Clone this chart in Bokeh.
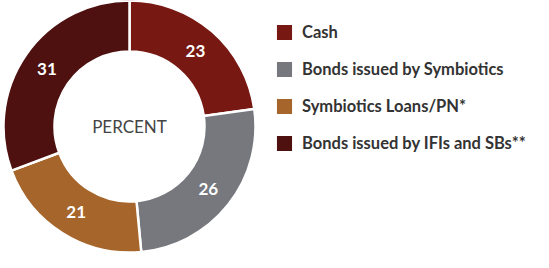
import math
from bokeh.plotting import figure
from bokeh.models import ColumnDataSource, Legend, LegendItem
from bokeh.core.properties import value
from bokeh.embed import file_html
from bokeh.resources import INLINE

categories = ["Cash", "Bonds issued by Symbiotics", "Symbiotics Loans/PN*", "Bonds issued by IFIs and SBs**"]
values = [23, 26, 21, 31]
colors = ["#771812", "#76787e", "#a6652a", "#4e1110"]
center_label = "PERCENT"

W, H = 533, 252
cx, cy = 129, 126
r_out, r_in = 126, 75

total = sum(values)
starts, ends, lx, ly = [], [], [], []
acc = 0.0
for v in values:
    a0 = math.pi / 2 - 2 * math.pi * acc / total
    acc += v
    a1 = math.pi / 2 - 2 * math.pi * acc / total
    starts.append(a0)
    ends.append(a1)
    mid = (a0 + a1) / 2
    rm = (r_out + r_in) / 2
    lx.append(cx + rm * math.cos(mid))
    ly.append(cy + rm * math.sin(mid))

src = ColumnDataSource(dict(cat=categories, val=values, color=colors,
                            start=starts, end=ends, lx=lx, ly=ly,
                            txt=[str(v) for v in values]))

p = figure(width=W, height=H, x_range=(0, W), y_range=(0, H),
           output_backend="svg", toolbar_location=None, min_border=0)
p.axis.visible = False
p.grid.visible = False
p.outline_line_color = None
p.background_fill_color = "white"

r = p.annular_wedge(x=cx, y=cy, inner_radius=r_in, outer_radius=r_out,
                    start_angle="start", end_angle="end", direction="clock",
                    fill_color="color", line_color="white", line_width=2.5, source=src)

p.text(x="lx", y="ly", text="txt", source=src, text_color="white",
       text_font=value("Lato"), text_font_style="bold", text_font_size="17px",
       text_align="center", text_baseline="middle")

p.text(x=[cx], y=[cy], text=[center_label], text_color="#444444",
       text_font=value("Lato"), text_font_size="17px",
       text_align="center", text_baseline="middle")

items = [LegendItem(label=c, renderers=[r], index=i) for i, c in enumerate(categories)]
legend = Legend(items=items, location=(273, 98), orientation="vertical",
                glyph_width=22, glyph_height=22, spacing=15, padding=0, margin=0,
                label_standoff=7, label_text_font="Lato",
                label_text_font_style="bold", label_text_font_size="16.5px",
                label_text_color="#333333", border_line_color=None,
                background_fill_alpha=0)
p.add_layout(legend, "center")

open("out.html", "w").write(file_html(p, INLINE))
